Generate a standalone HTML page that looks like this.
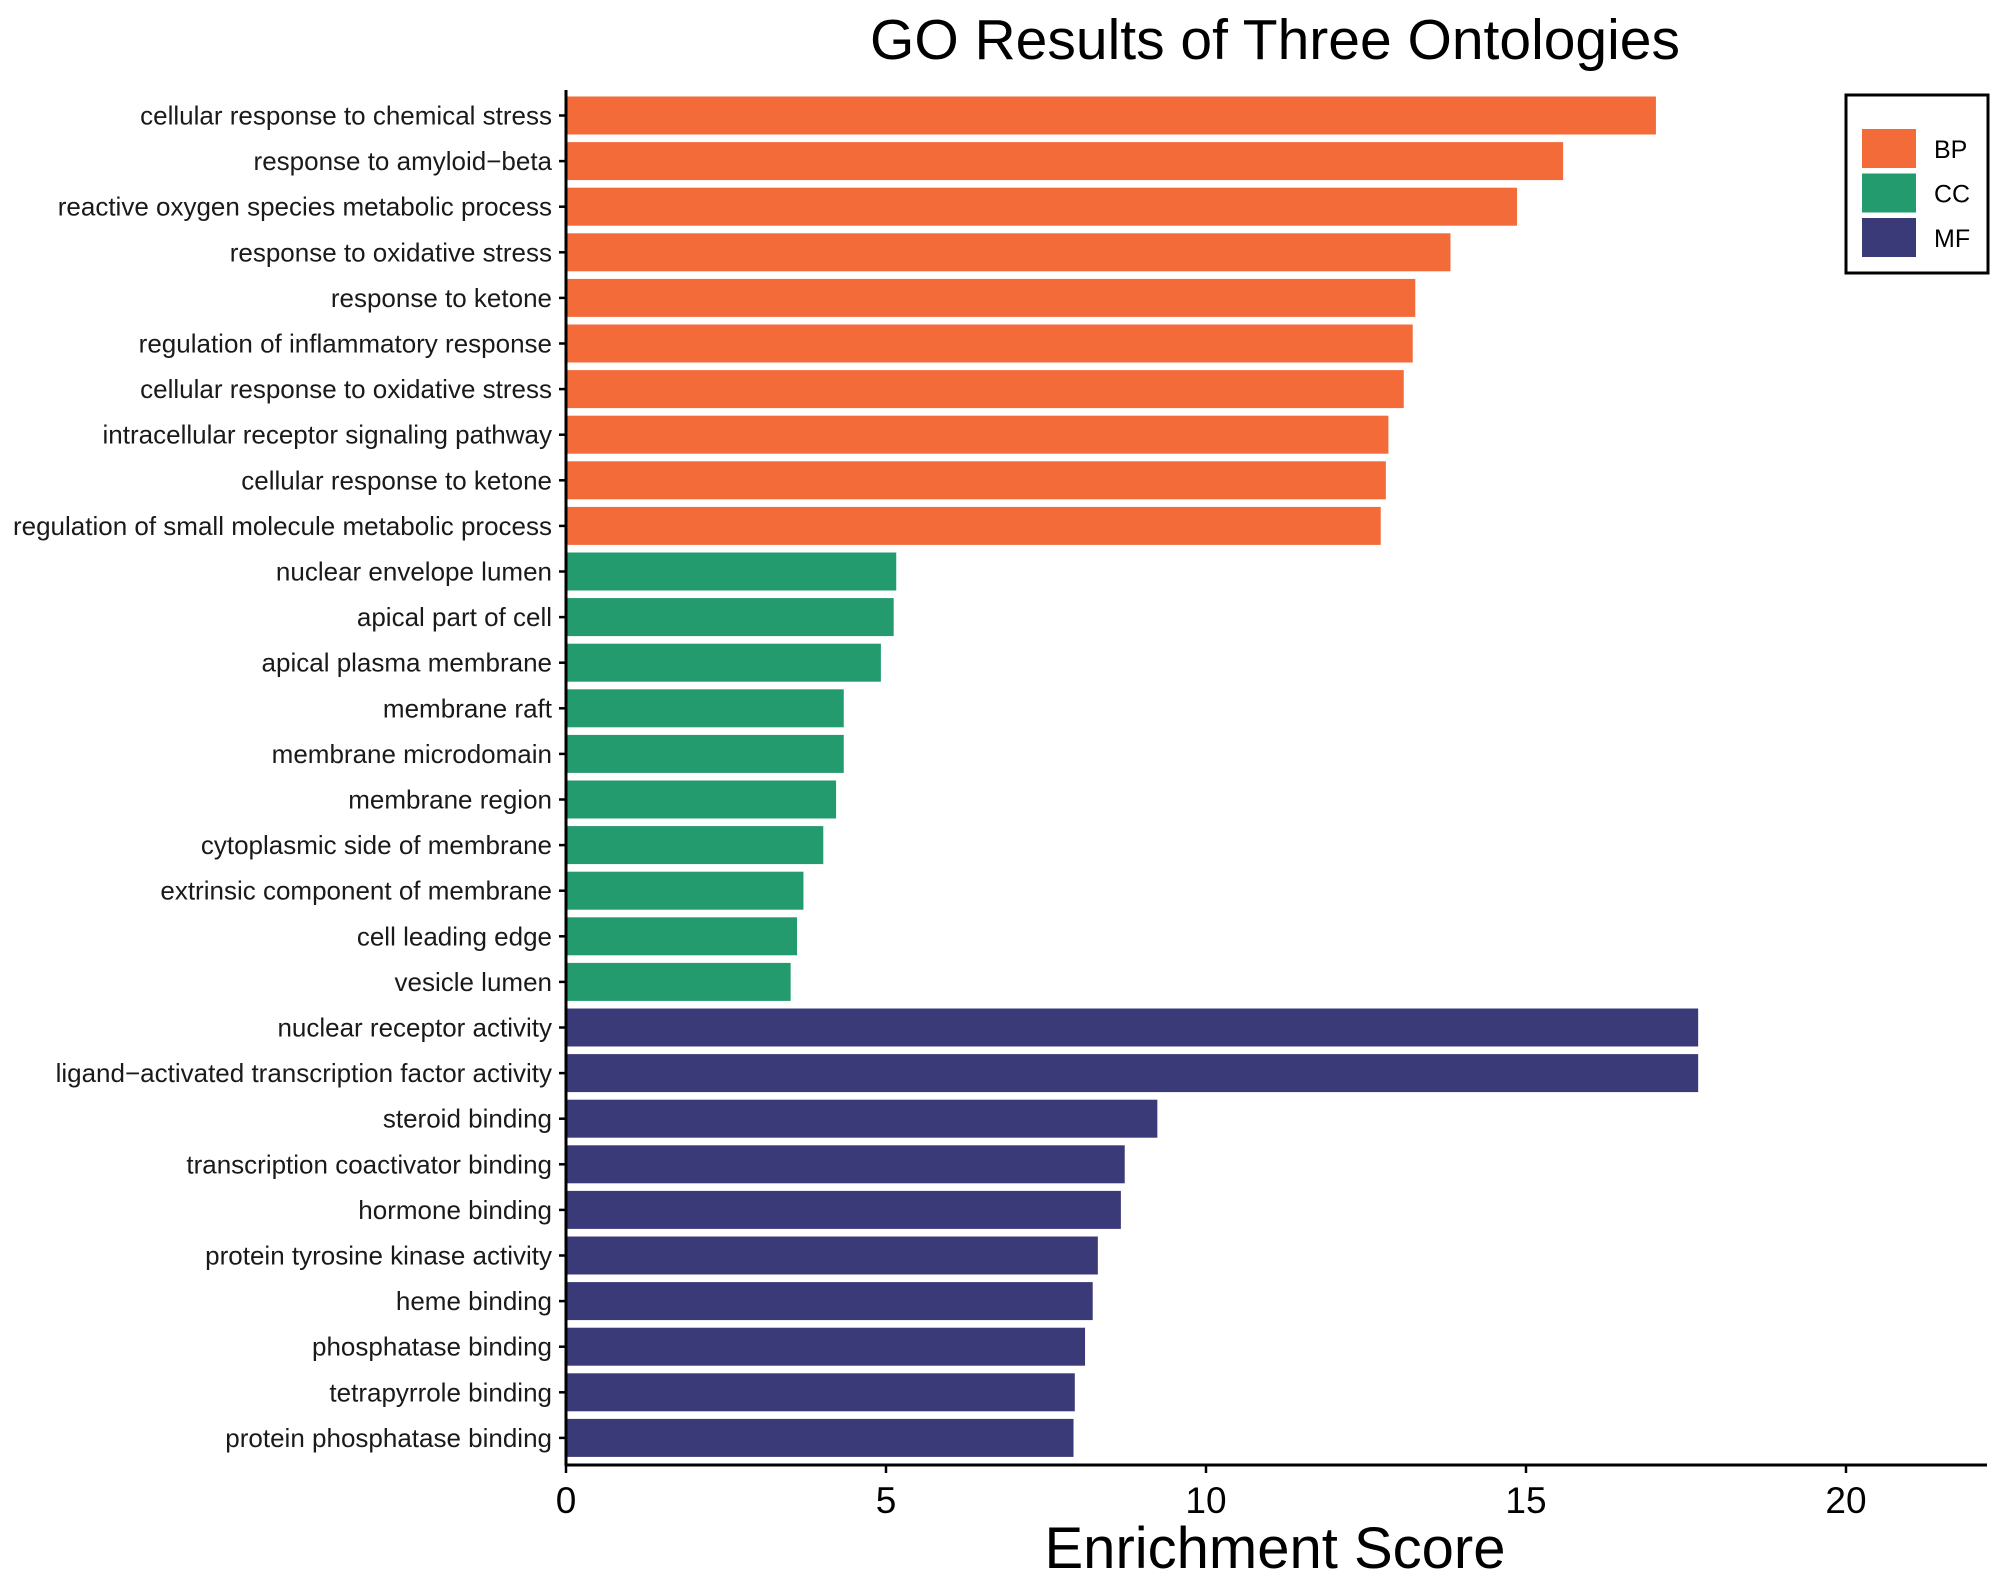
<!DOCTYPE html>
<html><head><meta charset="utf-8"><style>
body{margin:0;background:#fff;}
svg{display:block;font-family:"Liberation Sans",sans-serif;}
</style></head><body>
<svg id="chart" width="1999" height="1580"></svg>
<script>
const categories=["cellular response to chemical stress","response to amyloid\u2212beta","reactive oxygen species metabolic process","response to oxidative stress","response to ketone","regulation of inflammatory response","cellular response to oxidative stress","intracellular receptor signaling pathway","cellular response to ketone","regulation of small molecule metabolic process","nuclear envelope lumen","apical part of cell","apical plasma membrane","membrane raft","membrane microdomain","membrane region","cytoplasmic side of membrane","extrinsic component of membrane","cell leading edge","vesicle lumen","nuclear receptor activity","ligand\u2212activated transcription factor activity","steroid binding","transcription coactivator binding","hormone binding","protein tyrosine kinase activity","heme binding","phosphatase binding","tetrapyrrole binding","protein phosphatase binding"];
const values=[17.03,15.58,14.86,13.82,13.27,13.23,13.09,12.85,12.81,12.73,5.16,5.12,4.92,4.34,4.34,4.22,4.02,3.71,3.61,3.51,17.69,17.69,9.24,8.73,8.67,8.31,8.23,8.11,7.95,7.93];
const groups=["BP","BP","BP","BP","BP","BP","BP","BP","BP","BP","CC","CC","CC","CC","CC","CC","CC","CC","CC","CC","MF","MF","MF","MF","MF","MF","MF","MF","MF","MF"];
const xTicks=[0,5,10,15,20];
const legendKeys=["BP","CC","MF"];
const colors={BP:"#F26B38",CC:"#239B6E",MF:"#3B3A78"};
const NS="http://www.w3.org/2000/svg";
const svg=document.getElementById('chart');
const x0=566,pxPer=64.0,yTop=115.5,pitch=45.6,barH=38,axisY=1465;
const xs=v=>x0+v*pxPer;
const ys=i=>yTop+i*pitch;
function mk(t,a,txt){const e=document.createElementNS(NS,t);for(const k in a)e.setAttribute(k,a[k]);if(txt!==undefined)e.textContent=txt;svg.appendChild(e);return e;}
categories.forEach((c,i)=>{
 const r=mk('rect',{x:x0,y:ys(i)-barH/2,width:xs(values[i])-x0,height:barH,fill:colors[groups[i]]});
 
 
 const tk=mk('line',{x1:x0-7,x2:x0,y1:ys(i),y2:ys(i),stroke:'#000','stroke-width':2.5});
 
 
 const t=mk('text',{x:x0-14,y:ys(i)+9,'text-anchor':'end','font-size':26,fill:'#1a1a1a'},c);
 
 
});
const ay=mk('line',{x1:x0,x2:x0,y1:90,y2:axisY+1,stroke:'#000','stroke-width':3});


const ax=mk('line',{x1:x0-1,x2:1987,y1:axisY,y2:axisY,stroke:'#000','stroke-width':3});


xTicks.forEach(v=>{
 const l=mk('line',{x1:xs(v),x2:xs(v),y1:axisY,y2:axisY+8,stroke:'#000','stroke-width':2.5});
 
 
 const t=mk('text',{x:xs(v),y:1513,'text-anchor':'middle','font-size':37,fill:'#000'},String(v));
 
 
});
const xt=mk('text',{x:1275,y:1568,'text-anchor':'middle','font-size':58,fill:'#000'},'Enrichment Score');


const tt=mk('text',{x:1275,y:59,'text-anchor':'middle','font-size':57,fill:'#000'},'GO Results of Three Ontologies');


const lb=mk('rect',{x:1846,y:95,width:142,height:178,fill:'#fff',stroke:'#000','stroke-width':3});


legendKeys.forEach((k,i)=>{
 const r=mk('rect',{x:1862,y:129+i*44.5,width:54,height:39,fill:colors[k]});
 
 
 const t=mk('text',{x:1934,y:158+i*44.5,'font-size':25,fill:'#000'},k);
 
 
});
</script>
</body></html>
